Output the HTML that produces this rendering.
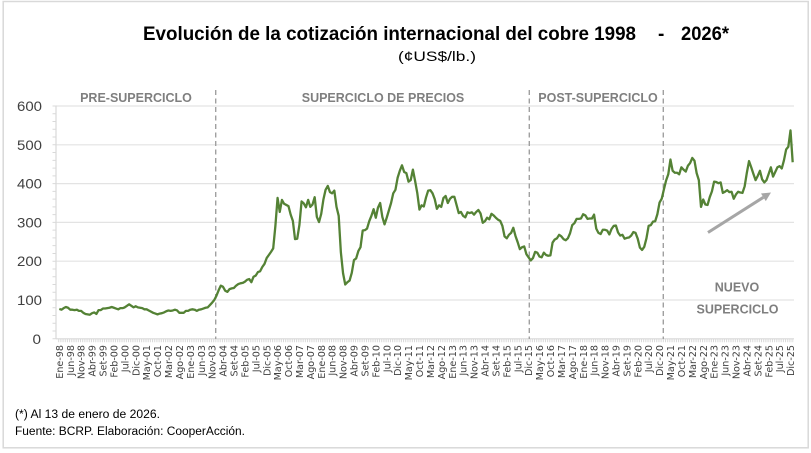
<!DOCTYPE html>
<html>
<head>
<meta charset="utf-8">
<style>
html,body{margin:0;padding:0;background:#fff;}
svg{display:block;}
text{font-family:"Liberation Sans",sans-serif;}
.xl text{font-family:"DejaVu Sans",sans-serif;}
</style>
</head>
<body>
<svg width="811" height="453" viewBox="0 0 811 453" xmlns="http://www.w3.org/2000/svg">
<rect x="0" y="0" width="811" height="453" fill="#fff"/>
<rect x="3.2" y="1.5" width="805" height="446.3" fill="none" stroke="#d9d9d9" stroke-width="1.5"/>

<!-- Title -->
<text x="143" y="40" font-size="19" font-weight="bold" fill="#000" textLength="493" lengthAdjust="spacingAndGlyphs">Evolución de la cotización internacional del cobre 1998</text>
<text x="658" y="40" font-size="19" font-weight="bold" fill="#000">-</text>
<text x="681" y="40" font-size="19" font-weight="bold" fill="#000" textLength="48" lengthAdjust="spacingAndGlyphs">2026*</text>
<text x="398" y="61" font-size="14" fill="#000" textLength="78" lengthAdjust="spacingAndGlyphs">(¢US$/lb.)</text>

<!-- gridlines -->
<g stroke="#e3e3e3" stroke-width="1.2">
<line x1="56" y1="106" x2="794" y2="106"/>
<line x1="56" y1="144.8" x2="794" y2="144.8"/>
<line x1="56" y1="183.6" x2="794" y2="183.6"/>
<line x1="56" y1="222.4" x2="794" y2="222.4"/>
<line x1="56" y1="261.2" x2="794" y2="261.2"/>
<line x1="56" y1="300" x2="794" y2="300"/>
</g>
<!-- axes -->
<line x1="56" y1="106" x2="56" y2="339" stroke="#d9d9d9" stroke-width="1.2"/>
<line x1="54.5" y1="105.5" x2="54.5" y2="339.5" stroke="#d9d9d9" stroke-width="4" stroke-dasharray="1 6.76"/>
<line x1="56" y1="338.8" x2="794" y2="338.8" stroke="#d9d9d9" stroke-width="1.2"/>
<line x1="58.2" y1="340.5" x2="794" y2="340.5" stroke="#d9d9d9" stroke-width="3.4" stroke-dasharray="1 1.1827"/>

<!-- y labels -->
<g font-size="13.5" fill="#404040" text-anchor="end">
<text x="42" y="111" textLength="25" lengthAdjust="spacingAndGlyphs">600</text>
<text x="42" y="149.8" textLength="25" lengthAdjust="spacingAndGlyphs">500</text>
<text x="42" y="188.6" textLength="25" lengthAdjust="spacingAndGlyphs">400</text>
<text x="42" y="227.4" textLength="25" lengthAdjust="spacingAndGlyphs">300</text>
<text x="42" y="266.2" textLength="25" lengthAdjust="spacingAndGlyphs">200</text>
<text x="42" y="305" textLength="25" lengthAdjust="spacingAndGlyphs">100</text>
<text x="41" y="343.8" textLength="8.5" lengthAdjust="spacingAndGlyphs">0</text>
</g>

<!-- dashed separators -->
<g stroke="#a0a0a0" stroke-width="1.4" stroke-dasharray="5 3.5">
<line x1="215.7" y1="90" x2="215.7" y2="339"/>
<line x1="529.3" y1="90" x2="529.3" y2="339"/>
<line x1="663.3" y1="90" x2="663.3" y2="339"/>
</g>

<!-- region labels -->
<g font-size="12.5" font-weight="bold" fill="#7f7f7f" text-anchor="middle">
<text x="136" y="102">PRE-SUPERCICLO</text>
<text x="383" y="102">SUPERCICLO DE PRECIOS</text>
<text x="598" y="102">POST-SUPERCICLO</text>
<text x="737" y="291.5">NUEVO</text>
<text x="737.5" y="313.3">SUPERCICLO</text>
</g>

<!-- arrow -->
<line x1="708" y1="232.5" x2="763.4" y2="197.3" stroke="#a6a6a6" stroke-width="3"/>
<polygon points="771,192.5 765.8,201.1 761.0,193.5" fill="#a6a6a6"/>

<!-- series -->
<polyline fill="none" stroke="#548235" stroke-width="2.3" stroke-linejoin="round" vector-effect="non-scaling-stroke"
transform="matrix(2.1827 0 0 -0.388 59.3 338.8)"
points="0,77 1,75 2,79 3,82 4,80 5,75 6,75 7,74 8,75 9,72 10,72 11,67 12,64 13,63 14,62 15,66 16,68 17,64 18,74 19,74 20,78 21,78 22,79 23,80 24,82 25,80 26,78 27,76 28,79 29,79 30,81 31,85 32,89 33,85 34,81 35,84 36,81 37,80 38,79 39,76 40,76 41,73 42,70 43,67 44,65 45,63 46,65 47,66 48,68 49,71 50,73 51,72 52,73 53,75 54,73 55,67 56,67 57,67 58,72 59,72 60,75 61,76 62,75 63,72 64,75 65,76 66,78 67,80 68,81 69,87 70,93 71,100 72,111 73,125 74,137 75,134 76,124 77,121 78,128 79,130 80,131 81,137 82,141 83,143 84,144 85,147 86,152 87,154 88,146 89,160 90,163 91,172 92,174 93,185 94,193 95,208 96,216 97,224 98,233 99,291 100,363 101,327 102,358 103,348 104,345 105,342 106,320 107,304 108,257 109,258 110,293 111,354 112,349 113,339 114,358 115,340 116,346 117,365 118,314 119,301 120,322 121,359 122,384 123,394 124,378 125,375 126,382 127,340 128,317 129,223 130,169 131,140 132,146 133,150 134,170 135,203 136,207 137,226 138,236 139,279 140,280 141,284 142,303 143,317 144,334 145,312 146,338 147,350 148,314 149,295 150,312 151,331 152,350 153,375 154,384 155,415 156,433 157,447 158,430 159,427 160,405 161,409 162,436 163,407 164,376 165,333 166,344 167,341 168,364 169,382 170,383 171,375 172,360 173,335 174,344 175,340 176,363 177,368 178,350 179,361 180,366 181,366 182,345 183,324 184,327 185,317 186,313 187,326 188,324 189,326 190,320 191,327 192,332 193,323 194,299 195,303 196,312 197,308 198,322 199,318 200,312 201,307 202,304 203,291 204,264 205,259 206,268 207,273 208,286 209,265 210,249 211,231 212,236 213,238 214,218 215,210 216,202 217,208 218,224 219,222 220,212 221,210 222,222 223,216 224,214 225,215 226,248 227,256 228,259 229,268 230,264 231,257 232,254 233,259 234,272 235,293 236,298 237,309 238,309 239,310 240,321 241,318 242,309 243,310 244,310 245,320 246,284 247,273 248,270 249,281 250,281 251,279 252,269 253,283 254,291 255,292 256,274 257,266 258,268 259,258 260,260 261,261 262,266 263,275 264,273 265,258 266,235 267,229 268,237 269,259 270,291 271,293 272,302 273,303 274,321 275,351 276,361 277,385 278,408 279,424 280,462 281,433 282,428 283,428 284,424 285,442 286,436 287,431 288,446 289,453 290,466 291,459 292,427 293,409 294,340 295,359 296,346 297,345 298,365 299,380 300,405 301,404 302,401 303,403 304,376 305,379 306,383 307,378 308,379 309,361 310,372 311,379 312,377 313,376 314,393 315,428 316,458 317,442 318,425 319,409 320,420 321,433 322,411 323,403 324,409 325,425 326,442 327,418 328,430 329,442 330,445 331,439 332,460 333,488 334,495 335,537 336,455"/>

<!-- x labels -->
<g class="xl" font-size="9.6" fill="#404040" text-anchor="end">
<text transform="translate(62.9,345) rotate(-90)">Ene-98</text>
<text transform="translate(73.8,345) rotate(-90)">Jun-98</text>
<text transform="translate(84.7,345) rotate(-90)">Nov-98</text>
<text transform="translate(95.6,345) rotate(-90)">Abr-99</text>
<text transform="translate(106.6,345) rotate(-90)">Set-99</text>
<text transform="translate(117.5,345) rotate(-90)">Feb-00</text>
<text transform="translate(128.4,345) rotate(-90)">Jul-00</text>
<text transform="translate(139.3,345) rotate(-90)">Dic-00</text>
<text transform="translate(150.2,345) rotate(-90)">May-01</text>
<text transform="translate(161.1,345) rotate(-90)">Oct-01</text>
<text transform="translate(172.0,345) rotate(-90)">Mar-02</text>
<text transform="translate(182.9,345) rotate(-90)">Ago-02</text>
<text transform="translate(193.9,345) rotate(-90)">Ene-03</text>
<text transform="translate(204.8,345) rotate(-90)">Jun-03</text>
<text transform="translate(215.7,345) rotate(-90)">Nov-03</text>
<text transform="translate(226.6,345) rotate(-90)">Abr-04</text>
<text transform="translate(237.5,345) rotate(-90)">Set-04</text>
<text transform="translate(248.4,345) rotate(-90)">Feb-05</text>
<text transform="translate(259.3,345) rotate(-90)">Jul-05</text>
<text transform="translate(270.3,345) rotate(-90)">Dic-05</text>
<text transform="translate(281.2,345) rotate(-90)">May-06</text>
<text transform="translate(292.1,345) rotate(-90)">Oct-06</text>
<text transform="translate(303.0,345) rotate(-90)">Mar-07</text>
<text transform="translate(313.9,345) rotate(-90)">Ago-07</text>
<text transform="translate(324.8,345) rotate(-90)">Ene-08</text>
<text transform="translate(335.7,345) rotate(-90)">Jun-08</text>
<text transform="translate(346.7,345) rotate(-90)">Nov-08</text>
<text transform="translate(357.6,345) rotate(-90)">Abr-09</text>
<text transform="translate(368.5,345) rotate(-90)">Set-09</text>
<text transform="translate(379.4,345) rotate(-90)">Feb-10</text>
<text transform="translate(390.3,345) rotate(-90)">Jul-10</text>
<text transform="translate(401.2,345) rotate(-90)">Dic-10</text>
<text transform="translate(412.1,345) rotate(-90)">May-11</text>
<text transform="translate(423.0,345) rotate(-90)">Oct-11</text>
<text transform="translate(434.0,345) rotate(-90)">Mar-12</text>
<text transform="translate(444.9,345) rotate(-90)">Ago-12</text>
<text transform="translate(455.8,345) rotate(-90)">Ene-13</text>
<text transform="translate(466.7,345) rotate(-90)">Jun-13</text>
<text transform="translate(477.6,345) rotate(-90)">Nov-13</text>
<text transform="translate(488.5,345) rotate(-90)">Abr-14</text>
<text transform="translate(499.4,345) rotate(-90)">Set-14</text>
<text transform="translate(510.4,345) rotate(-90)">Feb-15</text>
<text transform="translate(521.3,345) rotate(-90)">Jul-15</text>
<text transform="translate(532.2,345) rotate(-90)">Dic-15</text>
<text transform="translate(543.1,345) rotate(-90)">May-16</text>
<text transform="translate(554.0,345) rotate(-90)">Oct-16</text>
<text transform="translate(564.9,345) rotate(-90)">Mar-17</text>
<text transform="translate(575.8,345) rotate(-90)">Ago-17</text>
<text transform="translate(586.8,345) rotate(-90)">Ene-18</text>
<text transform="translate(597.7,345) rotate(-90)">Jun-18</text>
<text transform="translate(608.6,345) rotate(-90)">Nov-18</text>
<text transform="translate(619.5,345) rotate(-90)">Abr-19</text>
<text transform="translate(630.4,345) rotate(-90)">Set-19</text>
<text transform="translate(641.3,345) rotate(-90)">Feb-20</text>
<text transform="translate(652.2,345) rotate(-90)">Jul-20</text>
<text transform="translate(663.1,345) rotate(-90)">Dic-20</text>
<text transform="translate(674.1,345) rotate(-90)">May-21</text>
<text transform="translate(685.0,345) rotate(-90)">Oct-21</text>
<text transform="translate(695.9,345) rotate(-90)">Mar-22</text>
<text transform="translate(706.8,345) rotate(-90)">Ago-22</text>
<text transform="translate(717.7,345) rotate(-90)">Ene-23</text>
<text transform="translate(728.6,345) rotate(-90)">Jun-23</text>
<text transform="translate(739.5,345) rotate(-90)">Nov-23</text>
<text transform="translate(750.5,345) rotate(-90)">Abr-24</text>
<text transform="translate(761.4,345) rotate(-90)">Set-24</text>
<text transform="translate(772.3,345) rotate(-90)">Feb-25</text>
<text transform="translate(783.2,345) rotate(-90)">Jul-25</text>
<text transform="translate(794.1,345) rotate(-90)">Dic-25</text>
</g>

<!-- footnotes -->
<text x="15" y="418" font-size="11.5" fill="#000" textLength="145" lengthAdjust="spacingAndGlyphs">(*) Al 13 de enero de 2026.</text>
<text x="15" y="435" font-size="11.5" fill="#000" textLength="230" lengthAdjust="spacingAndGlyphs">Fuente: BCRP.  Elaboración: CooperAcción.</text>
</svg>
</body>
</html>
